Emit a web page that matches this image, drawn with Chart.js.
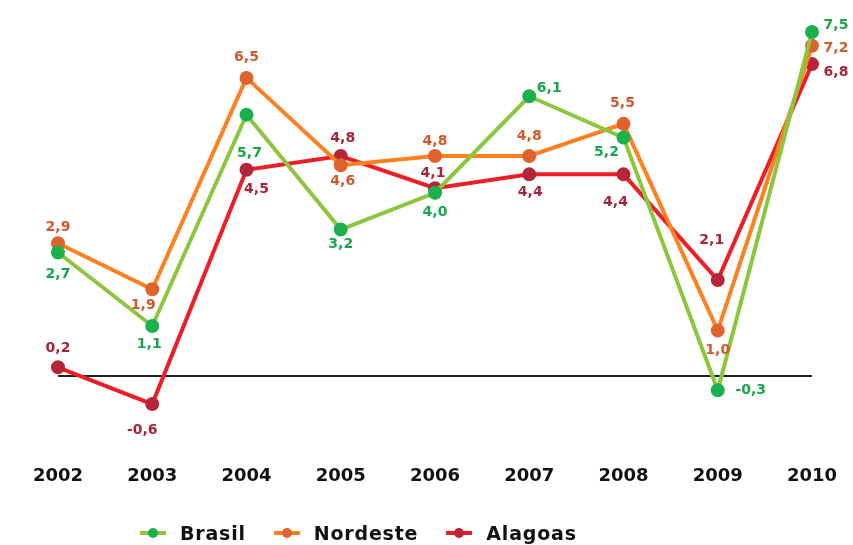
<!DOCTYPE html>
<html>
<head>
<meta charset="utf-8">
<script src="https://cdn.jsdelivr.net/npm/chart.js@4"></script>
<style>
  html, body { margin: 0; padding: 0; background: #fff; }
  #wrap { width: 853px; height: 545px; position: relative; }
  #legend {
    position: absolute; left: 138px; top: 521px; height: 24px;
    display: flex; align-items: center;
    font: bold 19px "DejaVu Sans", sans-serif; letter-spacing: 0.8px; color: #111;
  }
  #legend .item { display: flex; align-items: center; margin-right: 26px; }
  #legend canvas { margin-right: 12px; }
</style>
</head>
<body>
<div id="wrap"><canvas id="chart"></canvas><div id="legend"></div></div>
<script>
// Data
const years = ['2002', '2003', '2004', '2005', '2006', '2007', '2008', '2009', '2010'];
const brasil = [2.7, 1.1, 5.7, 3.2, 4.0, 6.1, 5.2, -0.3, 7.5];
const nordeste = [2.9, 1.9, 6.5, 4.6, 4.8, 4.8, 5.5, 1.0, 7.2];
const alagoas = [0.2, -0.6, 4.5, 4.8, 4.1, 4.4, 4.4, 2.1, 6.8];

// label nudges [dx, dy] from each point, in px
const brasilLabelOffset = [[0, 22], [-3, 18], [3, 39], [0, 15], [0, 20], [20, -8], [-17, 15], [33, 0], [24, -7]];
const nordesteLabelOffset = [[0, -16], [-9, 16], [0, -21], [2, 16], [0, -15], [0, -20], [-1, -20], [0, 20], [24, 3]];
const alagoasLabelOffset = [[0, -19], [-10, 26], [10, 20], [2, -18], [-2, -15], [1, 18], [-8, 28], [-6, -40], [24, 8]];

const FONT = '"DejaVu Sans", sans-serif';

const series = [
  { label: 'Brasil', data: brasil, line: '#8cc63e', dot: '#1bb04c', text: '#17a64a', off: brasilLabelOffset },
  { label: 'Nordeste', data: nordeste, line: '#ff8020', dot: '#e0622c', text: '#d4582c', off: nordesteLabelOffset },
  { label: 'Alagoas', data: alagoas, line: '#ee1d26', dot: '#b52638', text: '#a82338', off: alagoasLabelOffset }
];

// small line + dot icon for the legend
function legendIcon(lineColor, dotColor) {
  const c = document.createElement('canvas');
  c.width = 30; c.height = 12;
  const g = c.getContext('2d');
  g.strokeStyle = lineColor;
  g.lineWidth = 4;
  g.beginPath(); g.moveTo(2, 6); g.lineTo(28, 6); g.stroke();
  g.fillStyle = dotColor;
  g.beginPath(); g.arc(15, 6, 5, 0, Math.PI * 2); g.fill();
  return c;
}

// Draw value labels next to points
const valueLabels = {
  id: 'valueLabels',
  afterDatasetsDraw(chart) {
    const ctx = chart.ctx;
    ctx.save();
    ctx.font = 'bold 14px ' + FONT;
    ctx.textBaseline = 'middle';
    ctx.textAlign = 'center';
    chart.data.datasets.forEach((ds, i) => {
      const meta = chart.getDatasetMeta(i);
      const s = series[i];
      meta.data.forEach((pt, j) => {
        const txt = ds.data[j].toFixed(1).replace('.', ',');
        const [dx, dy] = s.off[j];
        ctx.fillStyle = s.text;
        ctx.fillText(txt, pt.x + dx, pt.y + dy);
      });
    });
    ctx.restore();
  }
};

const chart = new Chart(document.getElementById('chart'), {
  type: 'line',
  data: {
    labels: years,
    datasets: series.map(s => ({
      label: s.label,
      data: s.data,
      borderColor: s.line,
      backgroundColor: s.dot,
      pointBackgroundColor: s.dot,
      pointBorderColor: s.dot,
      pointRadius: 5,
      borderWidth: 4,
      tension: 0,
      fill: false
    }))
  },
  options: {
    responsive: true,
    maintainAspectRatio: false,
    animation: false,
    layout: {
      padding: { left: 58, right: 41, top: 0, bottom: 46 }
    },
    plugins: {
      legend: { display: false },
      tooltip: { enabled: false }
    },
    scales: {
      x: {
        offset: false,
        grid: { display: false },
        border: { display: false },
        afterFit(axis) { axis.paddingLeft = 0; axis.paddingRight = 0; },
        ticks: {
          color: '#111',
          padding: 12,
          maxRotation: 0,
          font: { family: FONT, size: 18, weight: 'bold' }
        }
      },
      y: {
        min: -1.5,
        max: 8,
        border: { display: false },
        grid: {
          color: (c) => c.tick && c.tick.value === 0 ? '#222' : 'rgba(0,0,0,0)',
          lineWidth: 2,
          drawTicks: false
        },
        ticks: { display: false, stepSize: 1 }
      }
    }
  },
  plugins: [valueLabels]
});

// HTML legend built from the series
const legendEl = document.getElementById('legend');
series.forEach(s => {
  const item = document.createElement('div');
  item.className = 'item';
  item.appendChild(legendIcon(s.line, s.dot));
  const t = document.createElement('span');
  t.textContent = s.label;
  item.appendChild(t);
  legendEl.appendChild(item);
});
</script>
</body>
</html>
